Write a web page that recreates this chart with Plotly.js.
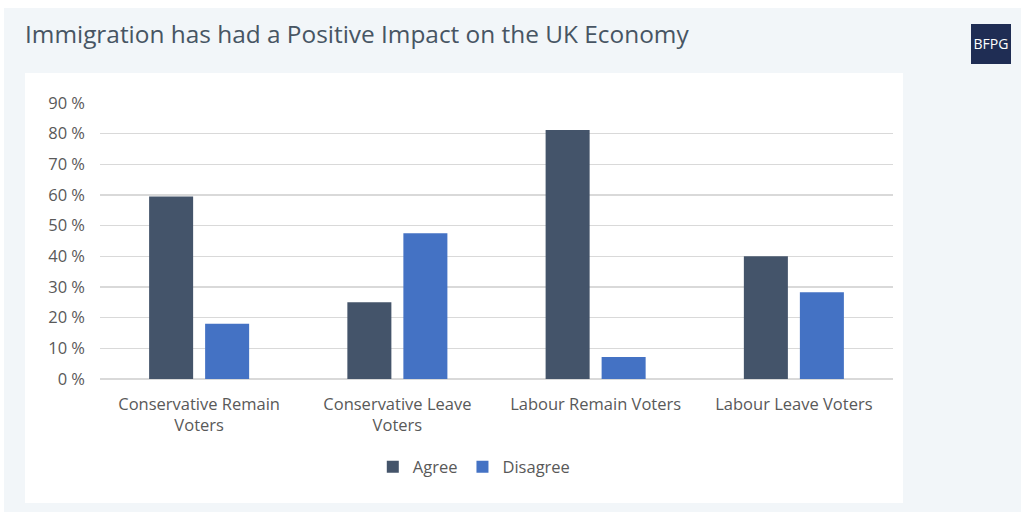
<!DOCTYPE html>
<html>
<head>
<meta charset="utf-8">
<script src="https://cdn.plot.ly/plotly-3.0.1.min.js"></script>
<style>
html,body{margin:0;padding:0;background:#ffffff;width:1021px;height:514px;overflow:hidden;}
#panel{position:absolute;left:4px;top:8px;width:1017px;height:504px;background:#f2f6f9;}
#inner{position:absolute;left:25px;top:73px;width:878px;height:430px;background:#ffffff;}
#logo{position:absolute;left:971px;top:24px;width:40px;height:40px;background:#1f2d54;color:#fff;font-family:'Open Sans',sans-serif;font-size:14px;line-height:40px;text-align:center;font-weight:400;}
#chart{position:absolute;left:0;top:0;width:1021px;height:514px;}
</style>
</head>
<body>
<div id="panel"></div>
<div id="inner"></div>
<div id="logo">BFPG</div>
<div id="chart"></div>
<script>
const categories = ['Conservative Remain<br>Voters', 'Conservative Leave<br>Voters', 'Labour Remain Voters', 'Labour Leave Voters'];
const agree = [59.5, 25, 81.2, 40];
const disagree = [18, 47.5, 7.2, 28.3];
const tickVals = [0, 10, 20, 30, 40, 50, 60, 70, 80, 90];
const tickText = tickVals.map(v => v + ' %');

const data = [
  {type:'bar', name:'Agree', x:categories, y:agree, marker:{color:'#44546a'}, hoverinfo:'y'},
  {type:'bar', name:'Disagree', x:categories, y:disagree, marker:{color:'#4472c4'}, hoverinfo:'y'}
];
const layout = {
  width:1021, height:514,
  paper_bgcolor:'rgba(0,0,0,0)', plot_bgcolor:'rgba(0,0,0,0)',
  margin:{l:100, r:128, t:103, b:135},
  title:{text:'Immigration has had a Positive Impact on the UK Economy', x:25/1021, xanchor:'left', xref:'container', y:1-34/514, yanchor:'middle', yref:'container', font:{family:'Open Sans', size:24.4, color:'#475563'}},
  barmode:'group', bargap:0.435, bargroupgap:0.214,
  xaxis:{tickfont:{family:'Open Sans', size:16.5, color:'#595959'}, showline:false, ticks:'', ticklabelstandoff:13},
  yaxis:{range:[0,90], tickmode:'array', tickvals:tickVals, ticktext:tickText, tickfont:{family:'Open Sans', size:16.5, color:'#595959'}, gridcolor:'#d9d9d9', gridwidth:1.5, zeroline:true, zerolinecolor:'#d9d9d9', zerolinewidth:1.5, ticks:'', ticklabelstandoff:14},
  legend:{orientation:'h', x:0.472, xanchor:'center', y:-0.319, yanchor:'middle', font:{family:'Open Sans', size:16.5, color:'#595959'}, bgcolor:'rgba(0,0,0,0)'},
  showlegend:true
};
Plotly.newPlot('chart', data, layout, {displayModeBar:false, staticPlot:true});
</script>
</body>
</html>
